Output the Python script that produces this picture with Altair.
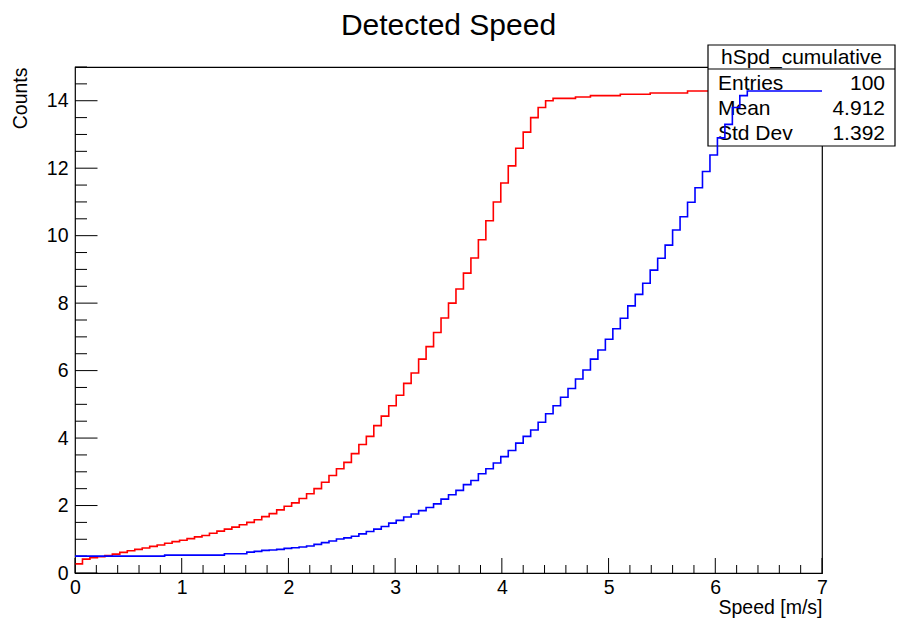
import altair as alt
import pandas as pd
import numpy as np

# ---------------- data ----------------
TITLE = "Detected Speed"
X_TITLE = "Speed [m/s]"
Y_TITLE = "Counts"
X_MIN, X_MAX, N_BINS = 0.0, 7.0, 100

red_counts = [
    0.27, 0.41, 0.45, 0.48, 0.52, 0.56, 0.61, 0.66, 0.70, 0.74,
    0.79, 0.83, 0.88, 0.93, 0.97, 1.02, 1.07, 1.11, 1.18, 1.24,
    1.30, 1.36, 1.43, 1.50, 1.58, 1.67, 1.76, 1.87, 1.98, 2.08,
    2.21, 2.35, 2.50, 2.69, 2.89, 3.09, 3.28, 3.54, 3.81, 4.05,
    4.37, 4.65, 4.96, 5.27, 5.62, 5.93, 6.34, 6.71, 7.13, 7.56,
    8.00, 8.42, 8.89, 9.34, 9.88, 10.44, 11.00, 11.56, 12.07, 12.59,
    13.07, 13.50, 13.80, 14.00, 14.07, 14.07, 14.07, 14.11, 14.11, 14.15,
    14.15, 14.15, 14.15, 14.19, 14.19, 14.19, 14.19, 14.23, 14.23, 14.23,
    14.23, 14.23, 14.29, 14.29, 14.29, 14.29, 14.29, 14.29, 14.29, 14.29,
    14.29, 14.29, 14.29, 14.29, 14.29, 14.29, 14.29, 14.29, 14.29, 14.29,
]

blue_counts = [
    0.50, 0.50, 0.50, 0.50, 0.50, 0.50, 0.50, 0.50, 0.50, 0.50,
    0.50, 0.50, 0.53, 0.53, 0.53, 0.53, 0.53, 0.53, 0.53, 0.53,
    0.57, 0.57, 0.57, 0.62, 0.64, 0.67, 0.68, 0.70, 0.73, 0.75,
    0.77, 0.80, 0.85, 0.90, 0.95, 1.01, 1.04, 1.09, 1.16, 1.23,
    1.30, 1.38, 1.48, 1.56, 1.66, 1.75, 1.85, 1.94, 2.05, 2.19,
    2.32, 2.45, 2.62, 2.74, 2.94, 3.09, 3.26, 3.45, 3.63, 3.85,
    4.05, 4.24, 4.47, 4.72, 4.96, 5.21, 5.47, 5.75, 6.02, 6.34,
    6.61, 6.93, 7.24, 7.55, 7.92, 8.26, 8.59, 8.98, 9.33, 9.72,
    10.17, 10.56, 10.99, 11.42, 11.90, 12.39, 12.90, 13.30, 13.80, 14.15,
    14.29, 14.29, 14.29, 14.29, 14.29, 14.29, 14.29, 14.29, 14.29, 14.29,
]

stats_name = "hSpd_cumulative"
stats_labels = ["Entries", "Mean", "Std Dev"]
stats_values = ["100", "4.912", "1.392"]

x_major = [0, 1, 2, 3, 4, 5, 6, 7]
x_minor = [round(0.2 * i, 2) for i in range(36) if i % 5 != 0]
y_major = [0, 2, 4, 6, 8, 10, 12, 14]
y_minor = [0.5 * i for i in range(31) if i % 4 != 0]

# ---------------- layout ----------------
W, H = 747, 506
FONT = "Liberation Sans"

edges = np.linspace(X_MIN, X_MAX, N_BINS + 1)


def step_frame(counts):
    return pd.DataFrame({
        "x": list(edges[:-1]) + [edges[-1]],
        "y": list(counts) + [counts[-1]],
    })


df_red = step_frame(red_counts)
df_blue = step_frame(blue_counts)

xscale = alt.Scale(domain=[X_MIN, X_MAX], nice=False, zero=False)
yscale = alt.Scale(domain=[0, 15], nice=False)

xaxis = alt.Axis(
    values=x_major, format="d", ticks=False, domain=False, grid=False,
    labelPadding=5, labelFontSize=19.5, labelFont=FONT, labelColor="black",
    title=X_TITLE, titleFont=FONT, titleFontSize=19.5, titleFontWeight="normal",
    titleColor="black", titleX=W, titleY=40, titleAlign="right",
    titleBaseline="alphabetic", labelOverlap=False, labelFlush=False,
)
yaxis = alt.Axis(
    values=y_major, format="d", ticks=False, domain=False, grid=False,
    labelPadding=7, labelFontSize=19.5, labelFont=FONT, labelColor="black",
    title=Y_TITLE, titleFont=FONT, titleFontSize=19.5, titleFontWeight="normal",
    titleColor="black", titleX=-49, titleY=0, titleAngle=270, titleAlign="right",
    titleBaseline="alphabetic", labelOverlap=False, labelFlush=False,
)


def X(field):
    return alt.X(field, scale=xscale, axis=xaxis)


def Y(field):
    return alt.Y(field, scale=yscale, axis=yaxis)


red = alt.Chart(df_red).mark_line(
    interpolate="step-after", color="#ff0000", strokeWidth=1.6
).encode(x=X("x:Q"), y=Y("y:Q"))

blue = alt.Chart(df_blue).mark_line(
    interpolate="step-after", color="#0000ff", strokeWidth=1.6
).encode(x=X("x:Q"), y=Y("y:Q"))


def xticks(vals, length):
    return alt.Chart(pd.DataFrame({"x": vals})).mark_rule(
        color="black", strokeWidth=1
    ).encode(
        x=X("x:Q"),
        y=alt.value(H), y2=alt.value(H - length),
    )


def yticks(vals, length):
    return alt.Chart(pd.DataFrame({"y": vals})).mark_rule(
        color="black", strokeWidth=1
    ).encode(
        y=Y("y:Q"),
        x=alt.value(0), x2=alt.value(length),
    )


one = pd.DataFrame({"a": [0]})

# statistics box (drawn over red, under blue as in the reference)
BX0, BX1, BY0, BY1 = 633, 820, -22, 79
box = alt.Chart(one).mark_rect(
    fill="white", stroke="black", strokeWidth=1.2
).encode(x=alt.value(BX0), x2=alt.value(BX1), y=alt.value(BY0), y2=alt.value(BY1))

divider = alt.Chart(one).mark_rule(color="black", strokeWidth=1.2).encode(
    x=alt.value(BX0), x2=alt.value(BX1), y=alt.value(2)
)

box_title = alt.Chart(pd.DataFrame({"t": [stats_name]})).mark_text(
    font=FONT, fontSize=21, color="black", align="center", baseline="alphabetic"
).encode(x=alt.value((BX0 + BX1) / 2), y=alt.value(-3), text="t:N")

row_y = [22.5, 48, 73]
stat_layers = []
for lab, val, yy in zip(stats_labels, stats_values, row_y):
    stat_layers.append(
        alt.Chart(pd.DataFrame({"t": [lab]})).mark_text(
            font=FONT, fontSize=21, color="black", align="left", baseline="alphabetic"
        ).encode(x=alt.value(BX0 + 10), y=alt.value(yy), text="t:N")
    )
    stat_layers.append(
        alt.Chart(pd.DataFrame({"t": [val]})).mark_text(
            font=FONT, fontSize=21, color="black", align="right", baseline="alphabetic"
        ).encode(x=alt.value(BX1 - 10), y=alt.value(yy), text="t:N")
    )

title = alt.Chart(pd.DataFrame({"t": [TITLE]})).mark_text(
    font=FONT, fontSize=30, color="black", align="center", baseline="alphabetic"
).encode(x=alt.value(W / 2), y=alt.value(-32), text="t:N")

chart = alt.layer(
    red,
    xticks(x_major, 15), xticks(x_minor, 8),
    yticks(y_major, 22.5), yticks(y_minor, 12),
    box, divider, box_title, *stat_layers,
    blue,
    title,
).properties(
    width=W, height=H,
    autosize=alt.AutoSizeParams(type="none"),
    padding={"left": 75, "top": 67, "right": 75, "bottom": 53},
    background="white",
).configure_view(
    stroke="black", strokeWidth=1.2
)

chart.save("out.html", embed_options={"renderer": "svg", "actions": False})
